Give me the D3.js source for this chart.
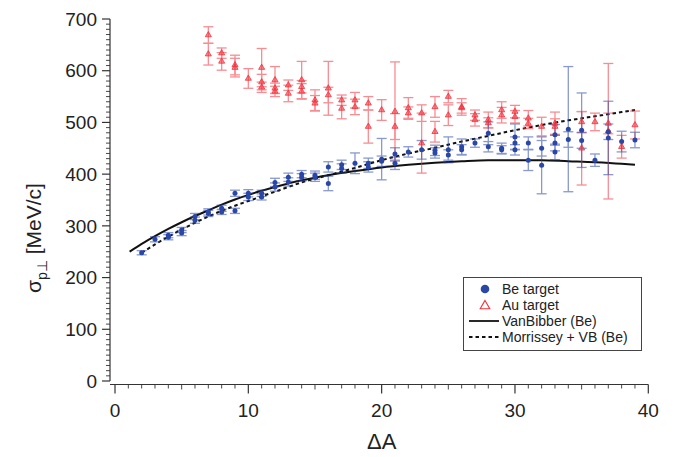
<!DOCTYPE html>
<html><head><meta charset="utf-8">
<script src="https://cdn.jsdelivr.net/npm/d3@7"></script>
<style>body{margin:0;background:#fff;} svg{display:block;font-family:"Liberation Sans",Arial,sans-serif;}</style>
</head><body>
<svg id="c" width="675" height="457"></svg>
<script>
// ---- data ----
const xTicks = [0,10,20,30,40];
const yTicks = [0,100,200,300,400,500,600,700];

const beA   = [2,3,4,4,5,5,6,6,7,7,8,8,9,9,10,10,11,11,12,12,13,13,14,14,15,15,16,16,17,17,18,19,19,20,20,21,21,22,23,24,24,25,25,26,26,27,28,28,29,29,30,30,30,31,31,32,32,33,33,33,34,34,35,35,36,37,37,38,39];
const beVal = [248,274,282,278,292,286,318,311,327,324,334,327,363,329,363,356,363,356,384,375,394,385,400,394,398,394,414,382,418,411,421,421,414,429,425,439,421,443,447,446,441,447,437,453,447,460,479,453,450,447,472,460,447,460,427,450,417,476,460,443,487,467,485,465,427,470,482,463,466];
const beErr = [4,5,5,5,5,5,6,6,6,6,6,5,6,5,7,7,6,6,8,8,8,8,7,7,8,8,10,14,9,9,20,10,10,40,10,12,12,10,18,10,10,25,10,15,10,8,22,10,10,8,25,12,10,12,20,15,55,20,15,15,121,15,72,15,12,71,15,20,15];

const auA   = [7,7,8,8,9,9,10,11,11,11,12,12,12,13,13,14,14,14,15,15,16,16,17,17,18,18,19,19,20,21,21,22,22,23,23,24,24,25,25,26,26,27,27,28,28,29,29,30,30,31,31,32,33,33,35,35,36,37,37,38,39];
const auVal = [669,632,634,618,611,606,585,606,578,568,582,566,560,572,556,582,569,560,543,537,566,553,543,527,543,530,537,492,524,521,492,528,518,518,460,530,482,550,514,530,528,514,505,505,499,524,514,521,511,508,498,492,498,492,501,450,501,498,483,453,495];
const auErr = [16,21,10,17,19,18,19,37,15,10,26,10,10,10,16,36,12,15,20,15,52,15,10,20,15,15,13,32,20,96,25,20,12,16,58,20,20,12,20,16,10,10,12,15,10,16,15,12,12,15,10,18,22,15,20,71,17,20,131,22,27];

const vbA = [1.1,2,3,4,5,6,7,8,9,10,12,14,16,18,20,22,24,26,28,30,32,34,36,38,39];
const vbS = [250,265,280,294,307,319,330,341,351,360,375,388,398,406,413,418,422,425,427,427,427,425,423,420,418];
const mvA = [2,3,4,5,6,7,8,9,10,12,14,16,18,20,22,24,26,28,30,32,34,36,38,39];
const mvS = [248,264,279,293,306,318,329,339,348,366,384,398,412,427,440,451,463,474,485,495,504,512,520,524];

const legendLabels = ["Be target","Au target","VanBibber (Be)","Morrissey + VB (Be)"];

// ---- drawing ----
const svg = d3.select("#c");
const x = d3.scaleLinear().domain([0,40]).range([115,648.3]);
const y = d3.scaleLinear().domain([0,700]).range([381,19]);
const axisCol = "#333";
const blue = "#2a47a6", red = "#f2313c";

// y axis
const yAxisX = 110, xAxisY = 384.5;
const gy = svg.append("g");
gy.append("line").attr("x1",yAxisX).attr("x2",yAxisX).attr("y1",y(700)).attr("y2",y(0)).attr("stroke",axisCol).attr("stroke-width",1.2);
d3.range(0,701,10).forEach(v=>{
  const major = v%100===0;
  gy.append("line").attr("x1",yAxisX).attr("x2",yAxisX-(major?8:4)).attr("y1",y(v)).attr("y2",y(v)).attr("stroke",axisCol).attr("stroke-width",major?1.2:0.9);
});
gy.selectAll("text").data(yTicks).join("text").attr("x",97).attr("y",d=>y(d)).attr("dy","0.35em")
  .attr("text-anchor","end").attr("font-size",19).attr("fill","#222").text(d=>d);

// x axis
const gx = svg.append("g");
gx.append("line").attr("x1",yAxisX).attr("x2",x(40)).attr("y1",xAxisY).attr("y2",xAxisY).attr("stroke",axisCol).attr("stroke-width",1.2);
d3.range(0,41,1).forEach(v=>{
  const major = v%10===0, mid = v%5===0;
  gx.append("line").attr("x1",x(v)).attr("x2",x(v)).attr("y1",xAxisY).attr("y2",xAxisY+(major?9:(mid?5:4))).attr("stroke",axisCol).attr("stroke-width",major?1.2:0.9);
});
gx.selectAll("text").data(xTicks).join("text").attr("x",d=>x(d)).attr("y",417)
  .attr("text-anchor","middle").attr("font-size",19).attr("fill","#222").text(d=>d);

// axis titles
svg.append("text").attr("x",x(20)).attr("y",449).attr("text-anchor","middle").attr("font-size",22).attr("fill","#222").text("ΔA");
const yl = svg.append("text").attr("transform","translate(41,238) rotate(-90)").attr("text-anchor","middle").attr("font-size",21).attr("fill","#222");
yl.append("tspan").text("σ");
yl.append("tspan").attr("font-size",14).attr("dy",6).text("p⊥");
yl.append("tspan").attr("dy",-6).text(" [MeV/c]");

// curves
const line = d3.line().x(d=>x(d[0])).y(d=>y(d[1])).curve(d3.curveMonotoneX);
svg.append("path").attr("d",line(vbA.map((a,i)=>[a,vbS[i]]))).attr("fill","none").attr("stroke","#111").attr("stroke-width",2);
svg.append("path").attr("d",line(mvA.map((a,i)=>[a,mvS[i]]))).attr("fill","none").attr("stroke","#111").attr("stroke-width",2).attr("stroke-dasharray","3.5,3");

// error bars helper
function errBars(A,V,E,col){
  const g = svg.append("g").attr("stroke",col).attr("stroke-width",1.3).attr("opacity",0.55);
  A.forEach((a,i)=>{
    const cx=x(a), t=y(V[i]+E[i]), b=y(V[i]-E[i]);
    g.append("line").attr("x1",cx).attr("x2",cx).attr("y1",t).attr("y2",b);
    g.append("line").attr("x1",cx-5).attr("x2",cx+5).attr("y1",t).attr("y2",t);
    g.append("line").attr("x1",cx-5).attr("x2",cx+5).attr("y1",b).attr("y2",b);
  });
}
errBars(auA,auVal,auErr,red);
errBars(beA,beVal,beErr,blue);

const tri = d3.symbol().type(d3.symbolTriangle).size(16);
svg.append("g").selectAll("path").data(auA).join("path")
  .attr("transform",(d,i)=>`translate(${x(d)},${y(auVal[i])})`).attr("d",tri())
  .attr("fill",red).attr("fill-opacity",0.55).attr("stroke",red).attr("stroke-width",0.8);
svg.append("g").selectAll("circle").data(beA).join("circle")
  .attr("cx",d=>x(d)).attr("cy",(d,i)=>y(beVal[i])).attr("r",2.5).attr("fill",blue);

// legend
const lg = svg.append("g");
lg.append("rect").attr("x",463.5).attr("y",277.5).attr("width",178).attr("height",73).attr("fill","#fff").attr("stroke","#444").attr("stroke-width",1);
const ly = [289,305,321,337];
lg.selectAll("text").data(legendLabels).join("text").attr("x",502).attr("y",(d,i)=>ly[i]).attr("dy","0.35em")
  .attr("font-size",14).attr("fill","#222").text(d=>d);
lg.append("circle").attr("cx",485).attr("cy",ly[0]).attr("r",4.3).attr("fill",blue);
lg.append("path").attr("transform",`translate(485,${ly[1]+1})`).attr("d",d3.symbol().type(d3.symbolTriangle).size(40)()).attr("fill","none").attr("stroke",red).attr("stroke-width",1.1);
lg.append("line").attr("x1",469).attr("x2",499).attr("y1",ly[2]).attr("y2",ly[2]).attr("stroke","#111").attr("stroke-width",1.8);
lg.append("line").attr("x1",469).attr("x2",499).attr("y1",ly[3]).attr("y2",ly[3]).attr("stroke","#111").attr("stroke-width",1.8).attr("stroke-dasharray","3.5,3");
</script>
</body></html>
